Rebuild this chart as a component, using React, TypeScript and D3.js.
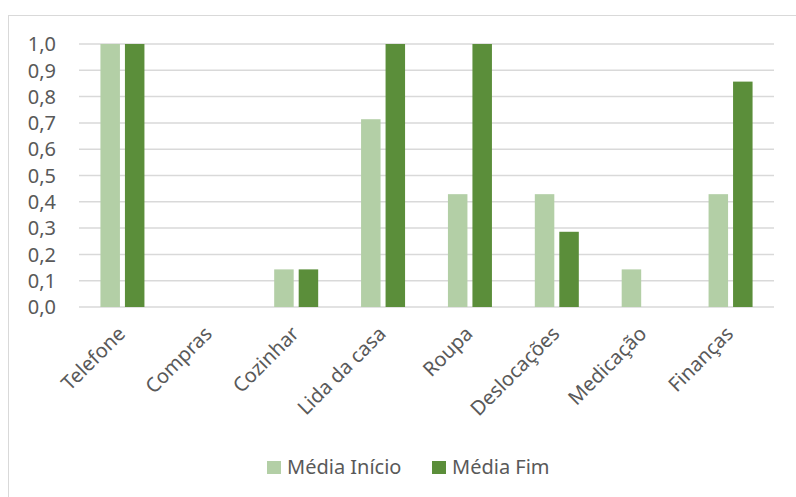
import React from "react";
import * as d3 from "d3";

const categories = ["Telefone", "Compras", "Cozinhar", "Lida da casa", "Roupa", "Deslocações", "Medicação", "Finanças"];
const seriesNames = ["Média Início", "Média Fim"];
const mediaInicio = [1.0, 0, 0.143, 0.714, 0.429, 0.429, 0.143, 0.429];
const mediaFim = [1.0, 0, 0.143, 1.0, 1.0, 0.286, 0, 0.857];
const yTicks = [0, 0.1, 0.2, 0.3, 0.4, 0.5, 0.6, 0.7, 0.8, 0.9, 1.0];
const colors = ["#b3cfa6", "#5b8e3a"];

export default function App() {
  const W = 796, H = 497;
  const left = 79, right = 774, top = 44, bottom = 307;
  const x0 = d3.scaleBand().domain(categories).range([left, right]).paddingInner(0).paddingOuter(0);
  const y = d3.scaleLinear().domain([0, 1]).range([bottom, top]);
  const barW = 19.5, gap = 5;
  const series = [mediaInicio, mediaFim];
  const font = "'Noto Sans', sans-serif";
  const textColor = "#595959";
  const fs = 20;
  return (
    <svg width={W} height={H} style={{ position: "absolute", left: 0, top: 0 }} fontFamily={font}>
      <rect x={0} y={0} width={W} height={H} fill="#fff" />
      <rect x={8.5} y={15.5} width={800} height={500} fill="#fff" stroke="#d9d9d9" />
      {yTicks.map((t) => (
        <g key={t}>
          <line x1={left} x2={right} y1={y(t)} y2={y(t)} stroke="#d9d9d9" strokeWidth={1.5} />
          <text x={56} y={y(t)} dy="0.36em" textAnchor="end" fontSize={fs} fill={textColor}>
            {d3.format(".1f")(t).replace(".", ",")}
          </text>
        </g>
      ))}
      {categories.map((c, i) => {
        const cx = x0(c)! + x0.bandwidth() / 2;
        return (
          <g key={c}>
            {series.map((s, k) => {
              const bx = cx - gap / 2 - barW + k * (barW + gap);
              return s[i] > 0 ? (
                <rect key={k} x={bx} y={y(s[i])} width={barW} height={y(0) - y(s[i])} fill={colors[k]} />
              ) : null;
            })}
            <text
              transform={`translate(${cx + 4},${bottom + 28}) rotate(-45)`}
              textAnchor="end"
              fontSize={fs}
              fill={textColor}
            >
              {c}
            </text>
          </g>
        );
      })}
      {seriesNames.map((n, k) => {
        const lx = [267, 432][k];
        return (
          <g key={n}>
            <rect x={lx} y={461} width={14} height={13} fill={colors[k]} />
            <text x={lx + 20} y={467} dy="0.36em" fontSize={fs} fill={textColor}>
              {n}
            </text>
          </g>
        );
      })}
    </svg>
  );
}
